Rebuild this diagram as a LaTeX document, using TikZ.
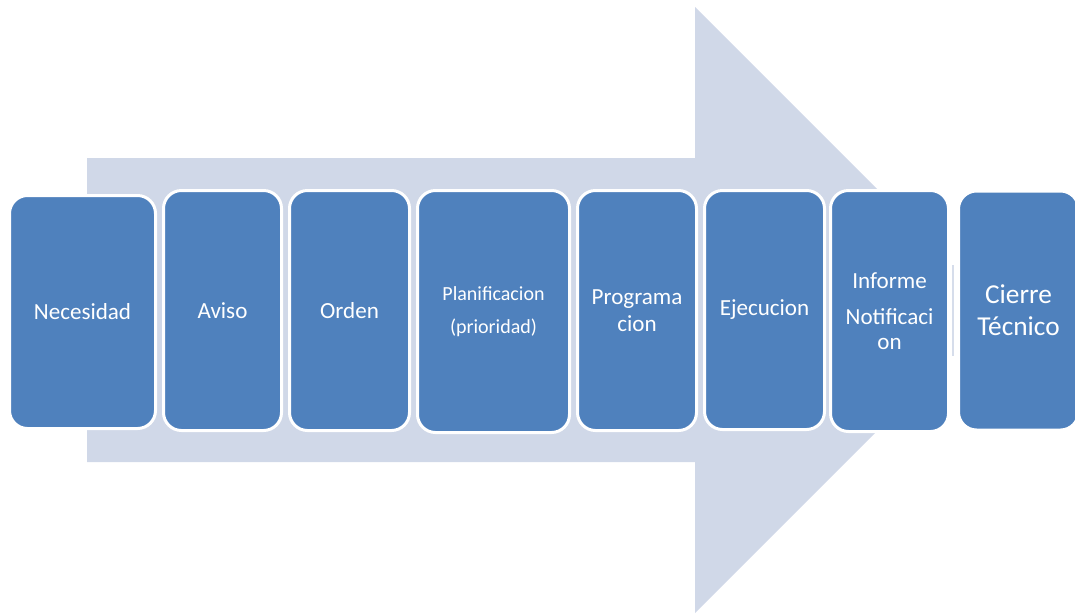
\documentclass[tikz,border=0pt]{standalone}
\usepackage{fontspec}
\setmainfont{Carlito}
\definecolor{boxblue}{HTML}{4F81BD}
\definecolor{arrowfill}{HTML}{D0D8E8}
\definecolor{seam}{HTML}{D6DDEB}
\begin{document}
\begin{tikzpicture}[x=0.75pt,y=-0.75pt,
  stepbox/.style={draw=white,line width=2.25pt,fill=boxblue,rounded corners=13.5pt,
    text=white,align=center,inner sep=0pt,font=\fontsize{17.3}{19}\selectfont},
  bigarrow/.style={fill=arrowfill,draw=none}]
\useasboundingbox (0,0) rectangle (1075,615);
\fill[bigarrow] (87,158) -- (695,158) -- (695,7) -- (946,258) -- (946,362) -- (695,613) -- (695,462) -- (87,462) -- cycle;
\node[stepbox,minimum width=109.5pt,minimum height=174.75pt] (n1) at (82.5,312) {Necesidad};
\node[stepbox,minimum width=88.5pt,minimum height=180pt] (n2) at (222.5,310.5) {Aviso};
\node[stepbox,minimum width=90pt,minimum height=180pt] (n3) at (349.5,310.5) {Orden};
\node[stepbox,minimum width=114pt,minimum height=181.5pt,font=\fontsize{15}{24.75}\selectfont] (n4) at (493.5,311.5) {Planificacion\\(prioridad)};
\node[stepbox,minimum width=89.25pt,minimum height=180pt,font=\fontsize{17.3}{20.25}\selectfont] (n5) at (637,310.5) {Programa\\cion};
\node[stepbox,minimum width=90pt,minimum height=179.25pt] (n6) at (764.5,310) {Ejecucion};
\node[stepbox,minimum width=88.5pt,minimum height=180.75pt,font=\fontsize{17.3}{18.75}\selectfont] (n7) at (889.5,311) {Informe\\[8.25pt]Notificaci\\on};
\node[stepbox,minimum width=90pt,minimum height=179.25pt,font=\fontsize{20.5}{24}\selectfont] (n8) at (1018.5,310.5) {Cierre\\Técnico};
\coordinate (s1) at (953,265);
\coordinate (s2) at (953,356);
\draw[seam,line width=1.1pt] (s1) -- (s2);
\end{tikzpicture}
\end{document}
